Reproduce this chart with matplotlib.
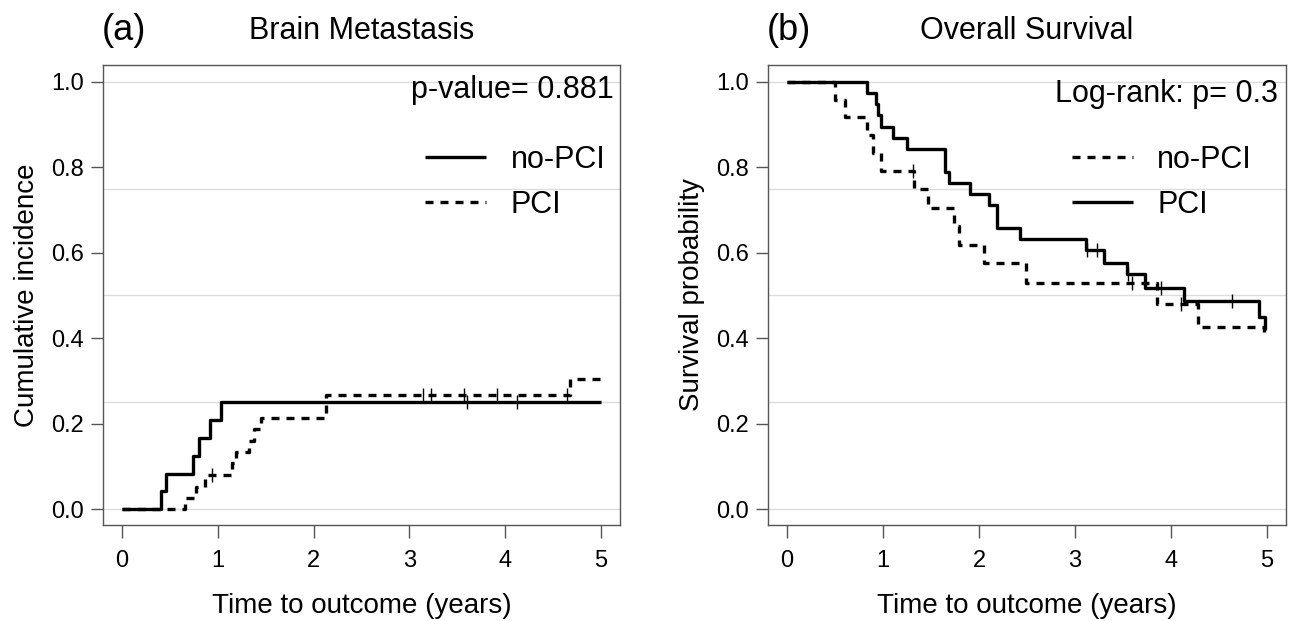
import matplotlib
matplotlib.use('Agg')
import matplotlib.pyplot as plt
import numpy as np

plt.rcParams['font.family'] = ['Liberation Sans', 'DejaVu Sans']

# (a) Brain metastasis - cumulative incidence (step, post)
bm_nopci_t = [0, 0.41, 0.455, 0.74, 0.80, 0.915, 1.03, 5.0]
bm_nopci_y = [0, 0.042, 0.083, 0.125, 0.167, 0.208, 0.25, 0.25]
bm_nopci_cens = [3.60, 4.12]

bm_pci_t = [0, 0.66, 0.77, 0.87, 1.15, 1.19, 1.32, 1.38, 1.45, 2.13, 4.68, 5.0]
bm_pci_y = [0, 0.027, 0.053, 0.080, 0.107, 0.134, 0.160, 0.187, 0.214, 0.268, 0.305, 0.305]
bm_pci_cens = [0.94, 3.14, 3.23, 3.57, 3.92, 4.65]

# (b) Overall survival - Kaplan-Meier
os_nopci_t = [0, 0.50, 0.60, 0.83, 0.89, 0.98, 1.32, 1.47, 1.74, 1.79, 2.05, 2.49, 3.85, 4.28, 4.97]
os_nopci_y = [1, 0.958, 0.917, 0.875, 0.833, 0.792, 0.75, 0.705, 0.662, 0.617, 0.575, 0.528, 0.481, 0.427, 0.415]
os_nopci_cens = [1.31, 3.59, 4.11]

os_pci_t = [0, 0.83, 0.93, 0.95, 0.976, 1.10, 1.25, 1.65, 1.69, 1.91, 2.10, 2.19, 2.43,
            3.11, 3.30, 3.54, 3.73, 4.14, 4.92, 4.98]
os_pci_y = [1, 0.974, 0.947, 0.921, 0.895, 0.868, 0.842, 0.789, 0.763, 0.737, 0.711, 0.658, 0.632,
            0.606, 0.577, 0.55, 0.518, 0.487, 0.45, 0.419]
os_pci_cens = [3.13, 3.23, 3.55, 3.90, 4.64]

x_ticks = [0, 1, 2, 3, 4, 5]
y_ticks = [0.0, 0.2, 0.4, 0.6, 0.8, 1.0]
grid_y = [0, 0.25, 0.5, 0.75, 1.0]

LW = 2.4
DASH = (0, (2.4, 2.1))
AX_COL = '#555555'


def step_value(t, y, tc):
    # value of a right-continuous step function at time tc
    idx = np.searchsorted(np.array(t), tc, side='right') - 1
    return y[idx]


def draw_curve(ax, t, y, cens, ls, label):
    ax.step(t, y, where='post', color='black', lw=LW, ls=ls, label=label,
            solid_capstyle='butt', dash_capstyle='butt', zorder=3)
    cy = [step_value(t, y, c) for c in cens]
    ax.plot(cens, cy, ls='none', marker='|', ms=10, mew=1.0, color='black', zorder=4)


def style_axes(ax, ylabel):
    ax.set_xlim(-0.2, 5.2)
    ax.set_ylim(-0.037, 1.039)
    for g in grid_y:
        ax.axhline(g, color='#dcdcdc', lw=1.0, zorder=1)
    ax.set_xticks(x_ticks)
    ax.set_yticks(y_ticks)
    ax.set_yticklabels(['%.1f' % v for v in y_ticks])
    ax.tick_params(direction='out', length=9, width=1.0, color=AX_COL,
                   labelsize=17, pad=5)
    ax.tick_params(axis='x', pad=9)
    for s in ax.spines.values():
        s.set_color(AX_COL)
        s.set_linewidth(1.0)
    ax.set_xlabel('Time to outcome (years)', fontsize=20, labelpad=15)
    ax.set_ylabel(ylabel, fontsize=20, labelpad=8)


fig = plt.figure(figsize=(12.92, 6.21), dpi=100)
ax1 = fig.add_axes([0.0797, 0.1546, 0.4002, 0.7407])
ax2 = fig.add_axes([0.5944, 0.1546, 0.4010, 0.7407])

# (a)
style_axes(ax1, 'Cumulative incidence')
draw_curve(ax1, bm_nopci_t, bm_nopci_y, bm_nopci_cens, '-', 'no-PCI')
draw_curve(ax1, bm_pci_t, bm_pci_y, bm_pci_cens, DASH, 'PCI')
ax1.text(0.988, 0.946, 'p-value= 0.881', transform=ax1.transAxes,
         ha='right', va='center', fontsize=22)
ax1.legend(loc='center left', bbox_to_anchor=(0.623, 0.745), frameon=False,
           fontsize=22, borderpad=0, borderaxespad=0, handlelength=2.0,
           handletextpad=0.8, labelspacing=0.5)

# (b)
style_axes(ax2, 'Survival probability')
draw_curve(ax2, os_nopci_t, os_nopci_y, os_nopci_cens, DASH, 'no-PCI')
draw_curve(ax2, os_pci_t, os_pci_y, os_pci_cens, '-', 'PCI')
ax2.text(0.985, 0.938, 'Log-rank: p= 0.3', transform=ax2.transAxes,
         ha='right', va='center', fontsize=22)
ax2.legend(loc='center left', bbox_to_anchor=(0.586, 0.745), frameon=False,
           fontsize=22, borderpad=0, borderaxespad=0, handlelength=2.0,
           handletextpad=0.8, labelspacing=0.5)

# panel letters and titles
fig.text(102 / 1292, 1 - 31 / 621, '(a)', fontsize=26, ha='left', va='center')
fig.text(362 / 1292, 1 - 31 / 621, 'Brain Metastasis', fontsize=22, ha='center', va='center')
fig.text(767 / 1292, 1 - 31 / 621, '(b)', fontsize=26, ha='left', va='center')
fig.text(1027 / 1292, 1 - 31 / 621, 'Overall Survival', fontsize=22, ha='center', va='center')

fig.savefig('out.png', dpi=100)
